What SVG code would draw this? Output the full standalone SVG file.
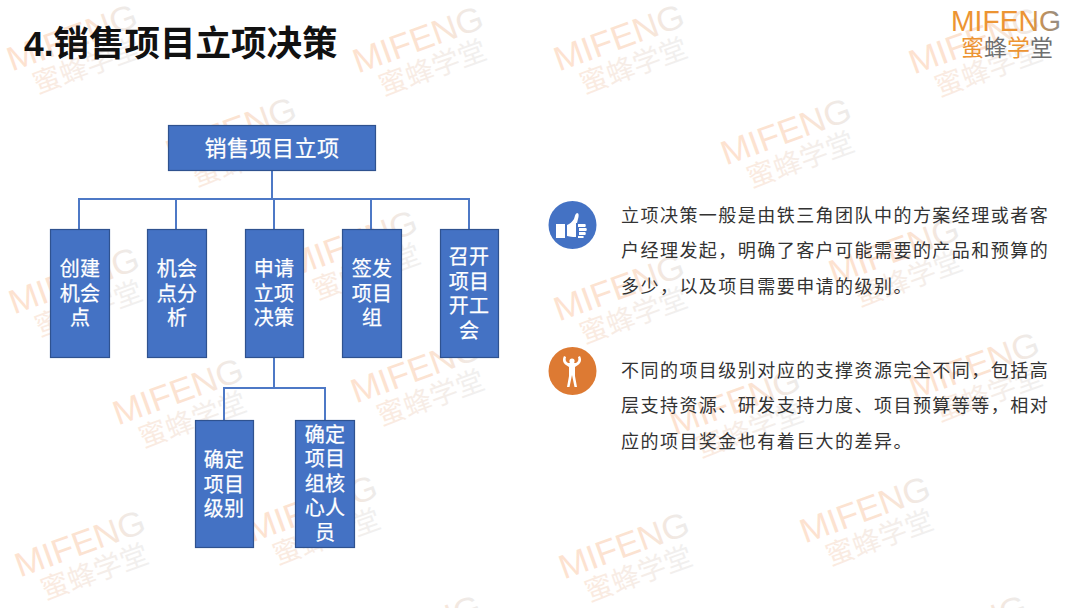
<svg xmlns="http://www.w3.org/2000/svg" xmlns:xlink="http://www.w3.org/1999/xlink" width="1080" height="608" viewBox="0 0 1080 608">
<style>
text{font-family:"Liberation Sans","Noto Sans CJK SC",sans-serif}
.n{fill:#4472c4;stroke:#2f528f;stroke-width:1.2}
.t{fill:#fff;stroke:#fff;stroke-width:.25;font-size:20px;text-anchor:middle;letter-spacing:.2px}
.c{fill:none;stroke:#4e79c6;stroke-width:2}
.b{fill:#333;font-size:18px;letter-spacing:1.46px}
.wm1{font-size:34px;fill:url(#wg1)}
.wm2{font-size:28px;fill:url(#wg2)}
</style>
<defs>
<linearGradient id="wg1"><stop offset="0" stop-color="#fde2d0"/><stop offset=".65" stop-color="#fbe3d2"/><stop offset="1" stop-color="#ececec"/></linearGradient>
<linearGradient id="wg2"><stop offset="0" stop-color="#fbeadf"/><stop offset="1" stop-color="#f0f0f0"/></linearGradient>
<linearGradient id="lg"><stop offset="0" stop-color="#ec9433"/><stop offset=".7" stop-color="#ec9433"/><stop offset="1" stop-color="#8c8c8c"/></linearGradient>
<g id="wm">
<text class="wm1" x="-68" y="-6" textLength="136" lengthAdjust="spacingAndGlyphs">MIFENG</text>
<text class="wm2" x="-52" y="24" textLength="112" lengthAdjust="spacingAndGlyphs">蜜蜂学堂</text>
</g>
</defs>
<rect width="1080" height="608" fill="#fff"/>
<g id="watermarks">
<use href="#wm" transform="translate(78 54) rotate(-20)"/>
<use href="#wm" transform="translate(424 56) rotate(-20)"/>
<use href="#wm" transform="translate(625 54) rotate(-20)"/>
<use href="#wm" transform="translate(980 57) rotate(-20)"/>
<use href="#wm" transform="translate(792 148) rotate(-20)"/>
<use href="#wm" transform="translate(237 147) rotate(-20)"/>
<use href="#wm" transform="translate(900 267) rotate(-20)"/>
<use href="#wm" transform="translate(80 297) rotate(-20)"/>
<use href="#wm" transform="translate(358 260) rotate(-20)"/>
<use href="#wm" transform="translate(625 304) rotate(-20)"/>
<use href="#wm" transform="translate(184 408) rotate(-20)"/>
<use href="#wm" transform="translate(422 386) rotate(-20)"/>
<use href="#wm" transform="translate(741 418) rotate(-20)"/>
<use href="#wm" transform="translate(980 382) rotate(-20)"/>
<use href="#wm" transform="translate(86 560) rotate(-20)"/>
<use href="#wm" transform="translate(318 525) rotate(-20)"/>
<use href="#wm" transform="translate(630 562) rotate(-20)"/>
<use href="#wm" transform="translate(871 526) rotate(-20)"/>
<use href="#wm" transform="translate(422 645) rotate(-20)"/>
<use href="#wm" transform="translate(968 645) rotate(-20)"/>
</g>
<text x="24" y="56" font-size="35.500" font-weight="700" fill="#111">4.销售项目立项决策</text>
<g id="logo">
<text x="951" y="31" font-size="29" fill="url(#lg)" textLength="110" lengthAdjust="spacingAndGlyphs">MIFENG</text>
<text x="961" y="56" font-size="23" fill="#ec9433">蜜</text>
<text x="984" y="56" font-size="23" fill="#6f6f6f">蜂</text>
<text x="1007" y="56" font-size="23" fill="#ec9433">学</text>
<text x="1030" y="56" font-size="23" fill="#6f6f6f">堂</text>
</g>
<g id="connectors">
<path class="c" d="M272 170V199M79 229V199H469V229M176 199V229M274 199V229M371 199V229"/>
<path class="c" d="M274 358V388M224 420V388H325V420"/>
</g>
<g id="n0"><rect class="n" x="168.500" y="125.500" width="207" height="45"/><text class="t" x="272" y="156" style="font-size:22px;letter-spacing:.5px">销售项目立项</text></g>
<g id="n1"><rect class="n" x="50.500" y="229.500" width="59" height="128"/><text class="t" x="80" y="276">创建</text><text class="t" x="80" y="301">机会</text><text class="t" x="80" y="325">点</text></g>
<g id="n2"><rect class="n" x="147.500" y="229.500" width="59" height="128"/><text class="t" x="177" y="276">机会</text><text class="t" x="177" y="301">点分</text><text class="t" x="177" y="325">析</text></g>
<g id="n3"><rect class="n" x="245.500" y="229.500" width="58" height="128"/><text class="t" x="274" y="276">申请</text><text class="t" x="274" y="301">立项</text><text class="t" x="274" y="325">决策</text></g>
<g id="n4"><rect class="n" x="342.500" y="229.500" width="59" height="128"/><text class="t" x="372" y="276">签发</text><text class="t" x="372" y="301">项目</text><text class="t" x="372" y="325">组</text></g>
<g id="n5"><rect class="n" x="440.500" y="229.500" width="58" height="128"/><text class="t" x="469" y="264">召开</text><text class="t" x="469" y="289">项目</text><text class="t" x="469" y="313">开工</text><text class="t" x="469" y="338">会</text></g>
<g id="n6"><rect class="n" x="195.500" y="420.500" width="58" height="127"/><text class="t" x="224" y="467">确定</text><text class="t" x="224" y="492">项目</text><text class="t" x="224" y="516">级别</text></g>
<g id="n7"><rect class="n" x="295.500" y="420.500" width="59" height="127"/><text class="t" x="325" y="442">确定</text><text class="t" x="325" y="466">项目</text><text class="t" x="325" y="491">组核</text><text class="t" x="325" y="515">心人</text><text class="t" x="325" y="540">员</text></g>
<g id="icon-thumb">
<circle cx="572.500" cy="225" r="24" fill="#4472c4"/>
<path fill="#fff" d="M556 224h9v14h-9zM567 225c3-1 5-3 7-6 1-3 1-5 3-6 2 0 2 3 1 6l-1 4h-1v14h-3c-3 0-4-1-6-1z"/>
<path fill="#fff" d="M578 224h7c1 0 1 3 0 3h-7zM579 228h7c1 0 1 3 0 3h-7zM579 232h6c1 0 1 3 0 3h-6zM578 236h5c1 0 1 2 0 2h-5z"/>
</g>
<g id="icon-man">
<circle cx="572.500" cy="371" r="24" fill="#dd7a33"/>
<path fill="#fff" d="M564 356c-2 4-1 7 2 9l3 2v9l-2 11h2.500l2.500-12 2.500 12h2.500l-2-11v-9l3-2c3-2 4-5 2-9l-2 1c1 3 0 5-2 6h-8c-2-1-3-3-2-6z"/>
<circle cx="572" cy="361" r="2.600" fill="#fff"/>
</g>
<g id="text1">
<text class="b" x="621" y="222">立项决策一般是由铁三角团队中的方案经理或者客</text>
<text class="b" x="621" y="257">户经理发起，明确了客户可能需要的产品和预算的</text>
<text class="b" x="621" y="293">多少，以及项目需要申请的级别。</text>
</g>
<g id="text2">
<text class="b" x="621" y="377">不同的项目级别对应的支撑资源完全不同，包括高</text>
<text class="b" x="621" y="412">层支持资源、研发支持力度、项目预算等等，相对</text>
<text class="b" x="621" y="448">应的项目奖金也有着巨大的差异。</text>
</g>
</svg>
